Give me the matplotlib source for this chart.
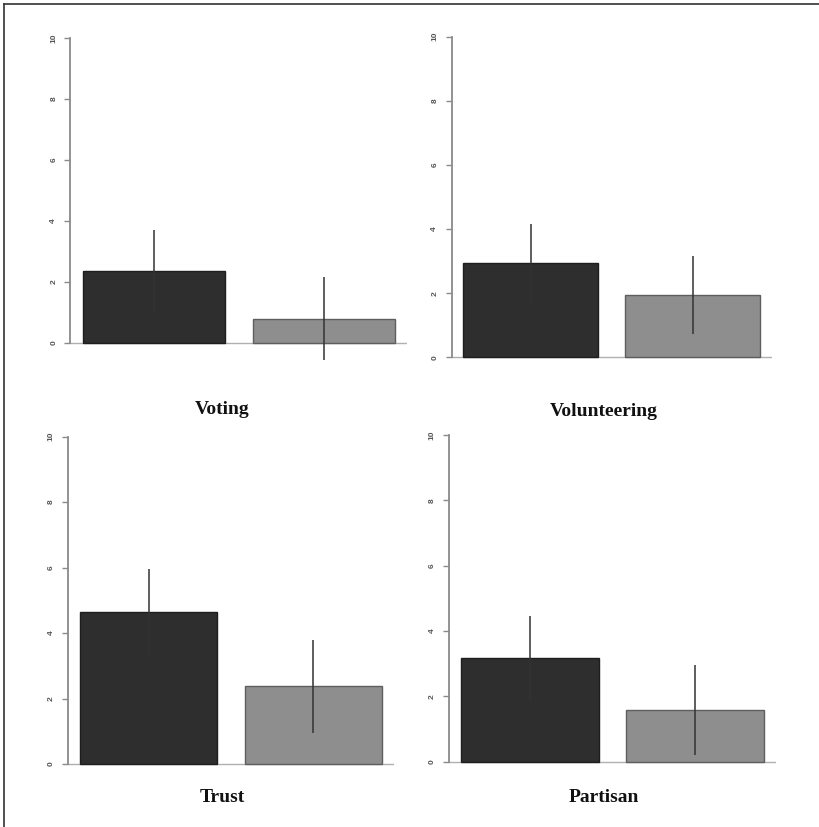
import matplotlib
matplotlib.use("Agg")
import matplotlib.pyplot as plt
from matplotlib.lines import Line2D

# values
categories = ["Voting", "Volunteering", "Trust", "Partisan"]
dark_means = [2.36, 2.93, 4.63, 3.17]
dark_err = [1.34, 1.23, 1.32, 1.30]
light_means = [0.80, 1.94, 2.38, 1.58]
light_err = [1.36, 1.22, 1.42, 1.38]
yticks = [0, 2, 4, 6, 8, 10]

W, H = 820, 827
# axes boxes in pixels: left, right, top, bottom
boxes = [
    (70.5, 407.5, 25.8, 355.2),
    (451.5, 772.0, 23.9, 370.1),
    (68.0, 394.0, 423.6, 777.1),
    (449.0, 776.0, 421.9, 774.8),
]
# title positions in pixels
title_pos = [(222, 410), (604, 411), (222, 797), (604, 797)]

fig = plt.figure(figsize=(W / 100, H / 100), dpi=100)

bar_x = [0.7, 1.9]
for i, cat in enumerate(categories):
    l, r, t, b = boxes[i]
    ax = fig.add_axes([l / W, 1 - b / H, (r - l) / W, (b - t) / H])
    means = [dark_means[i], light_means[i]]
    errs = [dark_err[i], light_err[i]]
    ax.bar(bar_x, means, width=1.0, color=["#2e2e2e", "#8e8e8e"],
           edgecolor=["#1e1e1e", "#5e5e5e"], linewidth=1.0, zorder=2)
    ax.vlines(bar_x, [m - e for m, e in zip(means, errs)],
              [m + e for m, e in zip(means, errs)],
              colors="#333333", linewidth=1.1, zorder=3, clip_on=False)
    ax.axhline(0, color="#b0b0b0", linewidth=1.0, zorder=1)
    ax.set_xlim(0.112, 2.488)
    ax.set_ylim(-0.4, 10.4)
    for s in ["top", "right", "bottom"]:
        ax.spines[s].set_visible(False)
    ax.spines["left"].set_bounds(0, 10)
    ax.spines["left"].set_color("#8a8a8a")
    ax.spines["left"].set_linewidth(1.3)
    ax.set_xticks([])
    ax.set_yticks(yticks)
    ax.set_yticklabels([str(v) for v in yticks], rotation=90, va="center",
                       fontsize=6, fontweight="bold",
                       family="Liberation Sans", color="#555555")
    ax.tick_params(axis="y", length=4.5, width=1.0, color="#8a8a8a", pad=5)
    fig.text(title_pos[i][0] / W, 1 - title_pos[i][1] / H, cat,
             ha="center", va="center", fontsize=14, fontweight="bold",
             family="Liberation Serif", color="#111111")

# partial frame along top and left edges
fig.add_artist(Line2D([4 / W, 4 / W], [0, 1 - 4 / H], transform=fig.transFigure,
                      color="#333333", linewidth=1.2))
fig.add_artist(Line2D([4 / W, 1], [1 - 4 / H, 1 - 4 / H], transform=fig.transFigure,
                      color="#333333", linewidth=1.2))

fig.savefig("out.png", dpi=100)
